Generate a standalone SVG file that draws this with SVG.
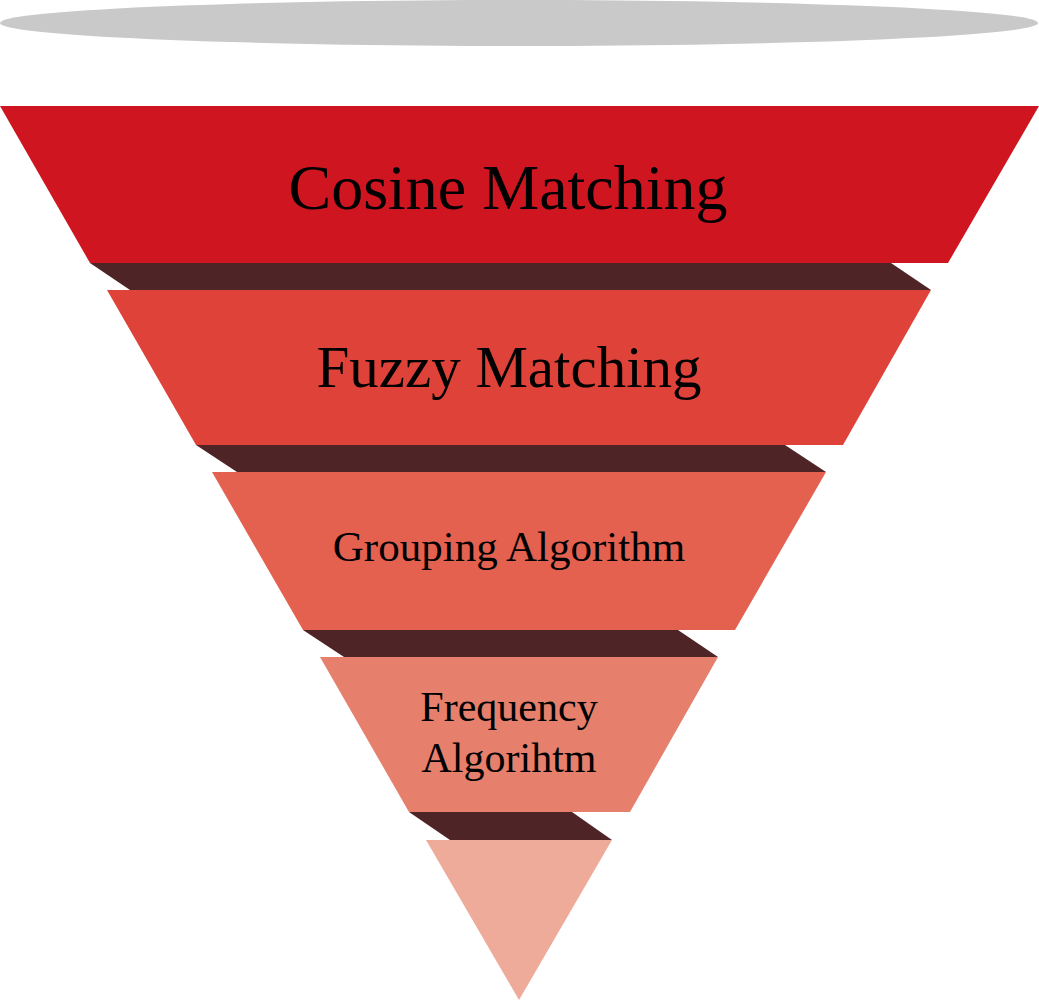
<svg xmlns="http://www.w3.org/2000/svg" width="1039" height="1001" viewBox="0 0 1039 1001">
  <style>
    .band { fill: #4F2426; }
    .label { font-family: "Liberation Serif", "Times New Roman", serif; fill: #000000; text-anchor: middle; }
  </style>
  <rect width="1039" height="1001" fill="#FFFFFF"/>

  <!-- rim of the funnel -->
  <ellipse id="rim" cx="519" cy="23" rx="519" ry="23" fill="#C8C9C8"/>

  <!-- dark shadow bands between the funnel layers -->
  <g id="connectors">
    <polygon class="band" points="90,263 891,263 931,290 130,290"/>
    <polygon class="band" points="196,445 785,445 826,472 237,472"/>
    <polygon class="band" points="303,630 678,630 718,657 344,657"/>
    <polygon class="band" points="409,812 572,812 612,840 450,840"/>
  </g>

  <g id="layer-cosine">
    <polygon points="0,106 1039,106 948,263 90,263" fill="#CF1620"/>
    <text class="label" x="508" y="209" font-size="64">Cosine Matching</text>
  </g>

  <g id="layer-fuzzy">
    <polygon points="107,290 931,290 843,445 196,445" fill="#DF4239"/>
    <text class="label" x="509" y="387" font-size="59">Fuzzy Matching</text>
  </g>

  <g id="layer-grouping">
    <polygon points="212,472 826,472 735,630 303,630" fill="#E46150"/>
    <text class="label" x="509" y="561" font-size="43">Grouping Algorithm</text>
  </g>

  <g id="layer-frequency">
    <polygon points="320,657 718,657 630,812 409,812" fill="#E67F6B"/>
    <text class="label" x="509" y="721" font-size="42">Frequency</text>
    <text class="label" x="509" y="772" font-size="42">Algorihtm</text>
  </g>

  <g id="layer-tip">
    <polygon points="426,840 612,840 519,1000" fill="#EEAB99"/>
  </g>
</svg>
